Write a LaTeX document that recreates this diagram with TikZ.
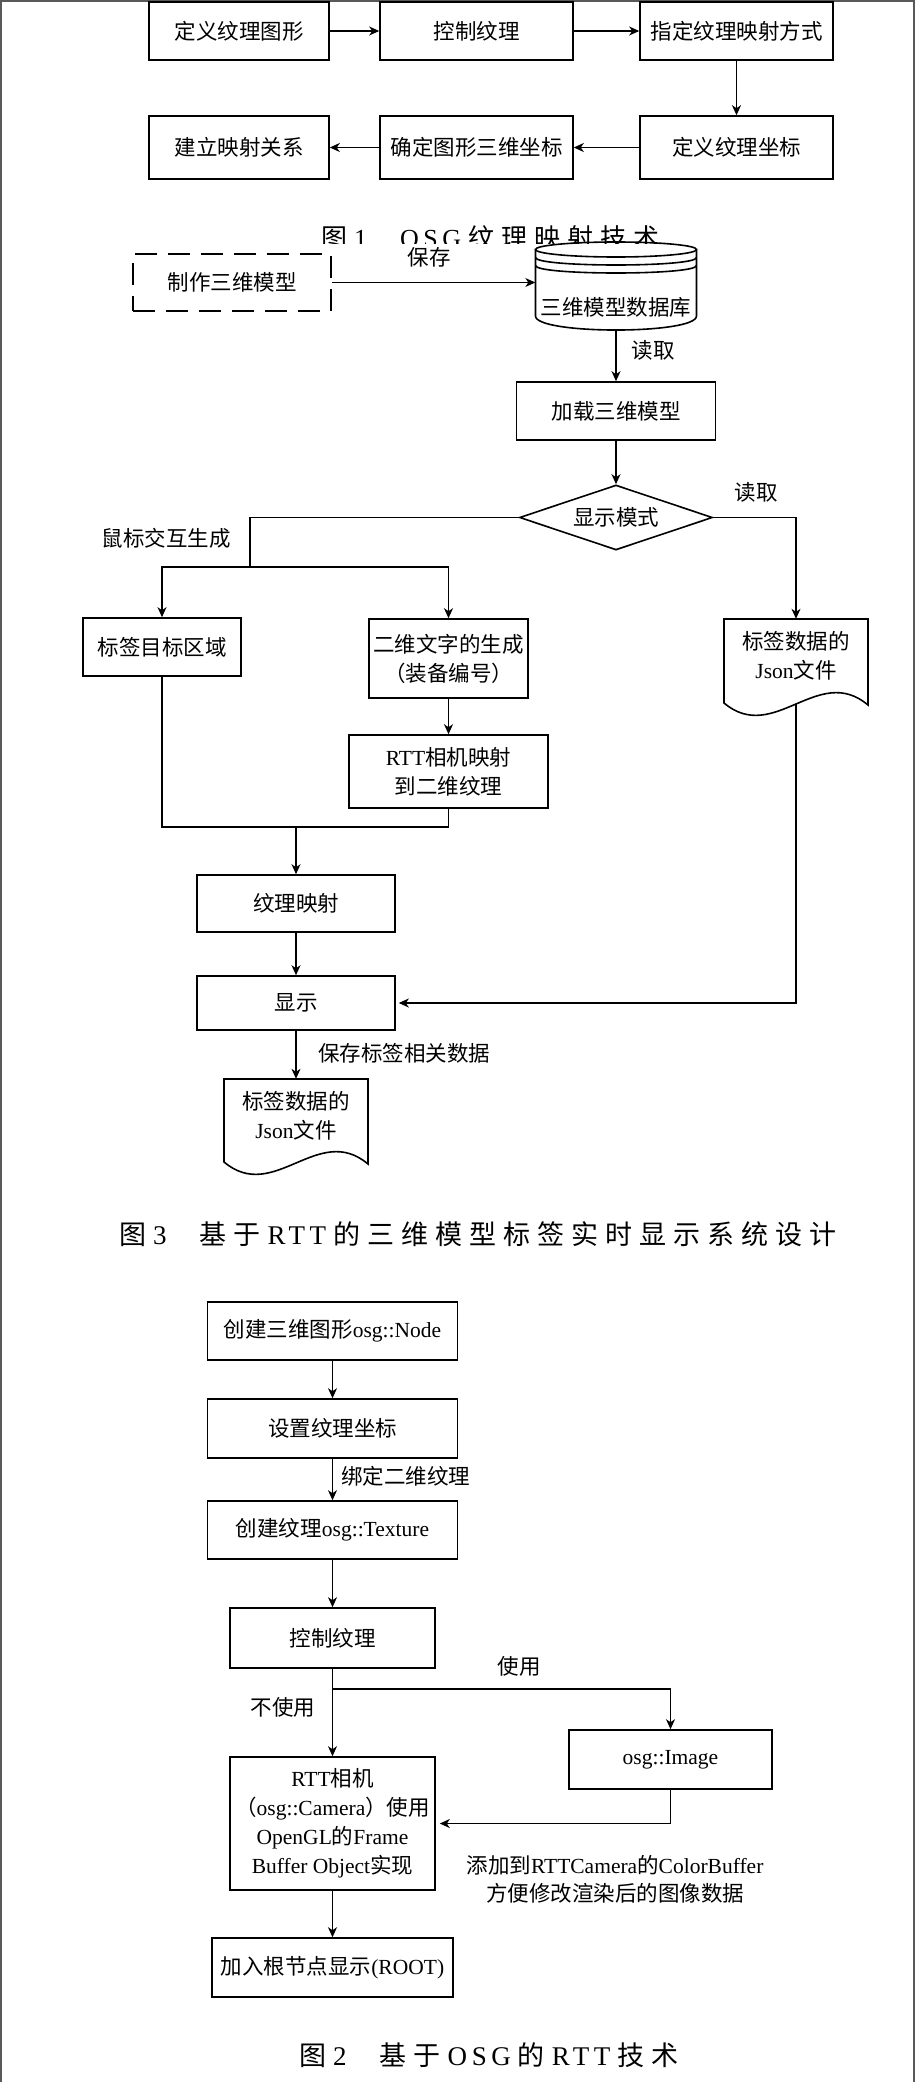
\documentclass[tikz,border=0pt]{standalone}
\usepackage{fontspec}
\setmainfont{Noto Sans CJK SC}
\newfontfamily\latf{Liberation Serif}
\newfontfamily\capc{Noto Sans CJK SC}
\newfontfamily\capl[LetterSpace=17]{Liberation Serif}
\usetikzlibrary{arrows.meta,shapes.geometric}
\newcommand\fsz{\fontsize{21.5pt}{29pt}\selectfont}
\newcommand\La[1]{{\latf #1}}
\newcommand\gp{\hspace{7pt}}
\tikzset{
 box/.style={draw, line width=1.6pt, fill=white, inner sep=0pt, font=\fsz, align=center},
 arr/.style={line width=1.3pt, -{Stealth[length=10pt,width=9pt,inset=3pt]}},
 ln/.style={line width=1.3pt},
 lbl/.style={font=\fsz, inner sep=0pt, align=center},
 captxt/.style={inner sep=0pt, anchor=west, font=\fontsize{27pt}{30pt}\selectfont},
 docshape/.style={draw, line width=1.6pt, fill=white},
}
\begin{document}
\begin{tikzpicture}[x=1pt,y=-1pt]
\useasboundingbox (0,0) rectangle (915,2082);
\fill[white] (0,0) rectangle (915,2082);
\draw[line width=1.6pt, black!65] (0.8,2082) -- (0.8,0.8) -- (914.2,0.8) -- (914.2,2082);

% ---------------- Figure 1 ----------------
\node[box, minimum width=180pt, minimum height=58pt] (a1) at (239,31) {定义纹理图形};
\node[box, minimum width=193pt, minimum height=58pt] (a2) at (476.5,31) {控制纹理};
\node[box, minimum width=193pt, minimum height=58pt] (a3) at (736.5,31) {指定纹理映射方式};
\node[box, minimum width=180pt, minimum height=63pt] (a4) at (239,147.5) {建立映射关系};
\node[box, minimum width=193pt, minimum height=63pt] (a5) at (476.5,147.5) {确定图形三维坐标};
\node[box, minimum width=193pt, minimum height=63pt] (a6) at (736.5,147.5) {定义纹理坐标};
\draw[arr] (a1) -- (a2);
\draw[arr] (a2) -- (a3);
\draw[arr] (a3) -- (a6);
\draw[arr] (a6) -- (a5);
\draw[arr] (a5) -- (a4);
\begin{scope}
\clip (0,200) rectangle (915,243.5);
\node[captxt, font=\fontsize{26pt}{30pt}\selectfont] (c1) at (321,247.8) {\smash{{\capc 图}\gp{\capl 1}\hspace{33pt}{\capl OSG}\gp{\capc 纹}\gp{\capc 理}\gp{\capc 映}\gp{\capc 射}\gp{\capc 技}\gp{\capc 术}}};
\end{scope}

% ---------------- Figure 3 ----------------
\node[box, dash pattern=on 22pt off 11pt, line width=1.8pt, minimum width=198pt, minimum height=57pt] (mk) at (232,282.5) {制作三维模型};
% database cylinder
\node[inner sep=0pt, minimum width=161pt, minimum height=88pt] (db) at (616,286) {};
\fill[white] (535.5,249.5) -- (535.5,316) .. controls (535.5,334.7) and (696.5,334.7) .. (696.5,316) -- (696.5,249.5) -- cycle;
\draw[line width=1.6pt] (535.5,249.5) -- (535.5,316) .. controls (535.5,334.7) and (696.5,334.7) .. (696.5,316) -- (696.5,249.5);
\draw[line width=1.6pt] (616,249.5) ellipse [x radius=80.5, y radius=7.5];
\draw[line width=1.6pt] (535.5,257.5) .. controls (535.5,267.5) and (696.5,267.5) .. (696.5,257.5);
\draw[line width=1.6pt] (535.5,265.5) .. controls (535.5,275.5) and (696.5,275.5) .. (696.5,265.5);
\node[lbl] (dbt) at (616,307) {三维模型数据库};
\draw[arr] (mk.east) -- (mk.east -| db.west);
\node[lbl] (l1) at (429,257) {保存};
\coordinate (dbs) at (616,330);
\node[box, minimum width=199pt, minimum height=58pt] (ld) at (616,411) {加载三维模型};
\draw[arr] (dbs) -- (ld.north);
\node[lbl] (l2) at (653,350) {读取};
\node[draw, diamond, line width=1.6pt, fill=white, inner sep=0pt, aspect=3, minimum width=193pt, minimum height=65pt, font=\fsz] (dm) at (616,517.5) {显示模式};
\draw[arr] (ld.south) -- (dm.north);
\node[lbl] (l3) at (756,492) {读取};
\node[lbl] (l4) at (166,538) {鼠标交互生成};
\coordinate (j1) at (250,567);
\node[box, minimum width=158pt, minimum height=58pt] (t1) at (162,647) {标签目标区域};
\node[box, minimum width=159pt, minimum height=79pt] (t2) at (448.5,658.5) {二维文字的生成\\（装备编号）};
\node[box, minimum width=199pt, minimum height=73pt] (t3) at (448.5,771.5) {\La{RTT}相机映射\\到二维纹理};
\draw[ln] (dm.west) -| (j1);
\draw[arr] (j1) -| (t1.north);
\draw[arr] (j1) -| (t2.north);
\draw[arr] (t2.south) -- (t3.north);
% document 1
\draw[docshape] (724,619) -- (724,703) .. controls (774,745) and (818,663) .. (868,705) -- (868,619) -- cycle;
\node[lbl, minimum width=144pt, minimum height=73pt] (d1) at (796,655.5) {标签数据的\\\La{Json}文件};
\coordinate (d1b) at (796,704);
\draw[arr] (dm.east) -| (d1.north);
% merge
\coordinate (j2) at (296,827);
\draw[ln] (t1.south) |- (j2);
\draw[ln] (t3.south) |- (j2);
\node[box, minimum width=198pt, minimum height=57pt] (m1) at (296,903.5) {纹理映射};
\node[box, minimum width=198pt, minimum height=54pt] (s2) at (296,1003) {显示};
\draw[arr] (j2) -- (m1.north);
\draw[arr] (m1.south) -- (s2.north);
\draw[arr, shorten >=3pt] (d1b) |- (s2.east);
% document 2
\draw[docshape] (224,1079) -- (224,1162) .. controls (274,1204) and (318,1122) .. (368,1164) -- (368,1079) -- cycle;
\node[lbl, minimum width=144pt, minimum height=74pt] (d2) at (296,1116) {标签数据的\\\La{Json}文件};
\draw[arr] (s2.south) -- (d2.north);
\node[lbl] (l5) at (404,1053) {保存标签相关数据};
\node[captxt] (c3) at (119,1234) {{\capc 图}\gp{\capl 3}\hspace{33pt}{\capc 基}\gp{\capc 于}\gp{\capl RTT}\gp{\capc 的}\gp{\capc 三}\gp{\capc 维}\gp{\capc 模}\gp{\capc 型}\gp{\capc 标}\gp{\capc 签}\gp{\capc 实}\gp{\capc 时}\gp{\capc 显}\gp{\capc 示}\gp{\capc 系}\gp{\capc 统}\gp{\capc 设}\gp{\capc 计}};

% ---------------- Figure 2 ----------------
\node[box, minimum width=250pt, minimum height=58pt] (n1) at (332.5,1331) {创建三维图形\La{osg::Node}};
\node[box, minimum width=250pt, minimum height=59pt] (n2) at (332.5,1428.5) {设置纹理坐标};
\node[box, minimum width=250pt, minimum height=58pt] (n3) at (332.5,1530) {创建纹理\La{osg::Texture}};
\node[box, minimum width=205pt, minimum height=60pt] (n4) at (332.5,1638) {控制纹理};
\node[box, minimum width=203pt, minimum height=59pt] (n5) at (670.5,1759.5) {\La{osg::Image}};
\node[box, minimum width=205pt, minimum height=133pt] (n6) at (332.5,1823.5) {\La{RTT}相机\\（\La{osg::Camera}）使用\\\La{OpenGL}的\La{Frame}\\\La{Buffer Object}实现};
\node[box, minimum width=241pt, minimum height=59pt] (n7) at (332.5,1967.5) {加入根节点显示\La{(ROOT)}};
\draw[arr] (n1) -- (n2);
\draw[arr] (n2) -- (n3);
\node[lbl, anchor=west] (l6) at (341,1476) {绑定二维纹理};
\draw[arr] (n3) -- (n4);
\coordinate (j3) at (332.5,1689);
\draw[arr] (n4.south) -- (n6.north);
\draw[arr] (j3) -| (n5.north);
\node[lbl] (l7) at (519,1666) {使用};
\node[lbl] (l8) at (283,1707) {不使用};
\draw[arr, shorten >=4pt] (n5.south) |- (n6.east);
\node[lbl] (l9) at (615,1865) {添加到\La{RTTCamera}的\La{ColorBuffer}};
\node[lbl] (l10) at (615,1893) {方便修改渲染后的图像数据};
\draw[arr] (n6) -- (n7);
\node[captxt] (c2) at (299,2055) {{\capc 图}\gp{\capl 2}\hspace{33pt}{\capc 基}\gp{\capc 于}\gp{\capl OSG}\gp{\capc 的}\gp{\capl RTT}\gp{\capc 技}\gp{\capc 术}};
\end{tikzpicture}
\end{document}
